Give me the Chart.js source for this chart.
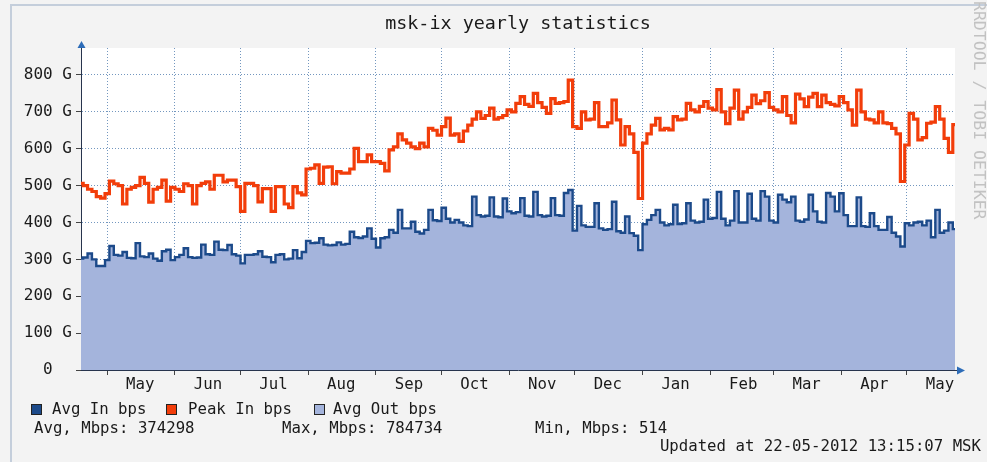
<!DOCTYPE html>
<html>
<head>
<meta charset="utf-8">
<title>msk-ix yearly statistics</title>
<script src="https://cdn.jsdelivr.net/npm/chart.js@4.4.1/dist/chart.umd.min.js"></script>
<style>
  html, body { margin: 0; padding: 0; background: #f3f3f3; }
  #wrap { width: 987px; height: 462px; }
</style>
</head>
<body>
<div id="wrap"><canvas id="graph" width="987" height="462"></canvas></div>
<script>
// x axis is in days, day 0 = 19 Apr 2011, last sample = 22 May 2012
const dayStep = 2;
const monthStarts = [12, 43, 73, 104, 135, 165, 196, 226, 257, 288, 317, 348, 378];
const monthLabels = ['May', 'Jun', 'Jul', 'Aug', 'Sep', 'Oct', 'Nov', 'Dec', 'Jan', 'Feb', 'Mar', 'Apr', 'May'];

// values in G(bit/s), one sample per 2 days
const peakIn = [
  506, 500, 490, 484, 470, 466, 478, 512, 505, 500,
  450, 490, 495, 500, 522, 506, 455, 490, 495, 515,
  458, 495, 490, 484, 505, 500, 450, 500, 506, 510,
  490, 528, 528, 510, 515, 515, 497, 430, 506, 506,
  500, 456, 492, 492, 430, 497, 497, 450, 440, 497,
  480, 475, 545, 547, 556, 506, 550, 551, 505, 538,
  534, 534, 545, 601, 565, 565, 583, 565, 565, 560,
  540, 597, 605, 640, 624, 615, 605, 600, 615, 605,
  655, 650, 637, 660, 683, 637, 640, 620, 648, 664,
  680, 700, 682, 690, 710, 680, 684, 690, 705, 700,
  723, 741, 720, 715, 750, 725, 712, 696, 736, 723,
  725, 728, 786, 660, 655, 700, 678, 680, 725, 660,
  660, 670, 732, 678, 610, 660, 640, 590, 465, 615,
  640, 664, 682, 651, 655, 651, 687, 678, 680, 723,
  705, 700, 715, 728, 710, 705, 760, 700, 668, 710,
  759, 680, 700, 712, 745, 722, 730, 752, 712, 705,
  700, 741, 690, 670, 748, 735, 714, 740, 750, 714,
  745, 725, 720, 716, 741, 725, 705, 664, 759, 700,
  680, 678, 670, 700, 670, 668, 655, 640, 511, 610,
  696, 680, 624, 630, 669, 672, 714, 680, 628, 590,
  665
];

const avgIn = [
  302, 305, 316, 300, 282, 282, 298, 336, 312, 310,
  320, 304, 303, 344, 308, 306, 316, 302, 296, 322,
  326, 298, 306, 312, 330, 306, 304, 305, 340, 314,
  312, 348, 326, 325, 339, 314, 310, 289, 312, 312,
  314, 322, 307, 306, 292, 312, 314, 300, 302, 325,
  303, 320, 350, 344, 345, 357, 340, 338, 339, 346,
  340, 342, 375, 360, 358, 362, 384, 356, 332, 357,
  360, 380, 372, 434, 384, 384, 402, 375, 370, 380,
  434, 406, 404, 440, 410, 400, 407, 400, 392, 390,
  470, 420, 416, 418, 468, 416, 414, 465, 430, 425,
  428, 466, 418, 416, 483, 420, 416, 418, 466, 420,
  418, 480, 488, 378, 445, 392, 388, 388, 452, 384,
  380, 382, 456, 376, 372, 416, 371, 364, 325, 395,
  407, 420, 434, 400, 392, 395, 448, 396, 398, 452,
  405, 400, 402, 462, 410, 412, 483, 410, 392, 405,
  485, 400, 400, 478, 410, 405, 485, 470, 405, 400,
  475, 462, 455, 470, 405, 402, 408, 475, 430, 402,
  400, 480, 470, 430, 479, 420, 390, 390, 468, 390,
  388, 425, 390, 380, 380, 415, 372, 362, 335, 398,
  392, 400, 402, 392, 405, 360, 434, 372, 378, 400,
  382
];
// outgoing average overlaps the incoming one at this resolution
const avgOut = avgIn.slice();

const seriesNames = ['Avg In bps', 'Peak In bps', 'Avg Out bps'];
const seriesColors = ['#1c4a8a', '#f23d0a', '#a4b4dc'];
const statAvg = 374298;
const statMax = 784734;
const statMin = 514;
const updatedAt = '22-05-2012 13:15:07 MSK';

const MONO = "'DejaVu Sans Mono', monospace";
const AXIS = '#27344d';
const GRID_MAJOR = 'rgba(80, 125, 175, 0.8)';
const GRID_MINOR = 'rgba(140, 170, 200, 0.5)';

const toPoints = arr => arr.map((v, i) => ({ x: i * dayStep, y: v }));

const backdrop = {
    id: 'backdrop',
    beforeDraw(chart) {
        const { ctx, chartArea: a, width, height } = chart;
        ctx.save();
        ctx.fillStyle = '#f3f3f3';
        ctx.fillRect(0, 0, width, height);
        ctx.strokeStyle = '#c4cedb';
        ctx.lineWidth = 2;
        ctx.beginPath();
        ctx.moveTo(11, height);
        ctx.lineTo(11, 5);
        ctx.lineTo(width, 5);
        ctx.stroke();
        ctx.fillStyle = '#ffffff';
        ctx.fillRect(a.left, a.top, a.right - a.left, a.bottom - a.top);
        ctx.restore();
    }
};

const decor = {
    id: 'decor',
    afterDraw(chart) {
        const { ctx, chartArea: a } = chart;
        ctx.save();

        // axis arrows
        ctx.strokeStyle = AXIS;
        ctx.lineWidth = 1;
        ctx.beginPath();
        ctx.moveTo(a.left + 0.5, a.top);
        ctx.lineTo(a.left + 0.5, a.top - 3);
        ctx.moveTo(a.right, a.bottom + 0.5);
        ctx.lineTo(a.right + 3, a.bottom + 0.5);
        ctx.stroke();
        ctx.fillStyle = '#2d6cb8';
        ctx.beginPath();
        ctx.moveTo(a.left + 0.5, a.top - 7);
        ctx.lineTo(a.left - 3.5, a.top + 0);
        ctx.lineTo(a.left + 4.5, a.top + 0);
        ctx.closePath();
        ctx.fill();
        ctx.beginPath();
        ctx.moveTo(a.right + 10, a.bottom + 0.5);
        ctx.lineTo(a.right + 2, a.bottom - 3.5);
        ctx.lineTo(a.right + 2, a.bottom + 4.5);
        ctx.closePath();
        ctx.fill();

        // title
        ctx.fillStyle = '#1a1a1a';
        ctx.font = '18.4px ' + MONO;
        ctx.textAlign = 'center';
        ctx.textBaseline = 'middle';
        ctx.fillText('msk-ix yearly statistics', (a.left + a.right) / 2, 24);

        // legend
        ctx.font = '15.7px ' + MONO;
        ctx.textAlign = 'left';
        const legendPos = [[31, 52], [166, 188], [314, 333]];
        seriesNames.forEach((name, i) => {
            const [bx, tx] = legendPos[i];
            ctx.fillStyle = seriesColors[i];
            ctx.fillRect(bx, 404, 11, 11);
            ctx.strokeStyle = '#222';
            ctx.lineWidth = 1;
            ctx.strokeRect(bx + 0.5, 404.5, 10, 10);
            ctx.fillStyle = '#1a1a1a';
            ctx.fillText(name, tx, 410);
        });

        // comments
        ctx.fillText('Avg, Mbps: ' + statAvg, 34, 429);
        ctx.fillText('Max, Mbps: ' + statMax, 282, 429);
        ctx.fillText('Min, Mbps: ' + statMin, 535, 429);
        ctx.textAlign = 'right';
        ctx.fillText('Updated at ' + updatedAt, 981, 447);

        // watermark
        ctx.translate(974, 1);
        ctx.rotate(Math.PI / 2);
        ctx.textAlign = 'left';
        ctx.textBaseline = 'alphabetic';
        ctx.font = '16.5px ' + MONO;
        ctx.fillStyle = '#c2c2c2';
        ctx.fillText('RRDTOOL / TOBI OETIKER', 0, 0);

        ctx.restore();
    }
};

new Chart(document.getElementById('graph'), {
    type: 'line',
    data: {
        datasets: [
            {
                label: seriesNames[0],
                data: toPoints(avgIn),
                borderColor: seriesColors[0],
                borderWidth: 2.4,
                fill: false,
                stepped: 'middle',
                pointRadius: 0
            },
            {
                label: seriesNames[1],
                data: toPoints(peakIn),
                borderColor: seriesColors[1],
                borderWidth: 3.2,
                fill: false,
                stepped: 'middle',
                pointRadius: 0
            },
            {
                label: seriesNames[2],
                data: toPoints(avgOut),
                borderWidth: 0,
                borderColor: 'rgba(0,0,0,0)',
                backgroundColor: seriesColors[2],
                fill: 'origin',
                stepped: 'middle',
                pointRadius: 0
            }
        ]
    },
    options: {
        responsive: false,
        devicePixelRatio: 1,
        animation: false,
        layout: { padding: { top: 48, right: 32, left: 0, bottom: 0 } },
        plugins: {
            legend: { display: false },
            tooltip: { enabled: false },
            title: { display: false }
        },
        scales: {
            x: {
                type: 'linear',
                min: 0,
                max: 400,
                z: 1,
                afterBuildTicks: s => { s.ticks = monthStarts.map(v => ({ value: v })); },
                afterFit: s => { s.height = 92; },
                ticks: {
                    callback: v => monthLabels[monthStarts.indexOf(v)] || '',
                    labelOffset: 33,
                    autoSkip: false,
                    maxRotation: 0,
                    padding: 1,
                    color: '#1a1a1a',
                    font: { family: MONO, size: 15.7 }
                },
                grid: {
                    color: GRID_MAJOR,
                    lineWidth: 1,
                    tickLength: 5,
                    tickColor: '#444',
                    tickBorderDash: []
                },
                border: { display: true, color: AXIS, width: 1, dash: [1, 2] }
            },
            y: {
                min: 0,
                max: 873,
                z: 1,
                afterBuildTicks: s => { s.ticks = s.ticks.filter(t => t.value % 50 === 0); },
                afterFit: s => { s.width = 81; },
                ticks: {
                    stepSize: 50,
                    callback: v => v % 100 !== 0 ? '' : (v === 0 ? '0  ' : v + ' G'),
                    padding: 4,
                    color: '#1a1a1a',
                    font: { family: MONO, size: 16 }
                },
                grid: {
                    color: c => c.tick && c.tick.value % 100 === 0 ? GRID_MAJOR : GRID_MINOR,
                    lineWidth: 1,
                    tickLength: 5,
                    tickColor: c => c.tick && c.tick.value % 100 === 0 ? '#444' : 'rgba(0,0,0,0)',
                    tickBorderDash: []
                },
                border: { display: true, color: AXIS, width: 1, dash: [1, 2] }
            }
        }
    },
    plugins: [backdrop, decor]
});
</script>
</body>
</html>
